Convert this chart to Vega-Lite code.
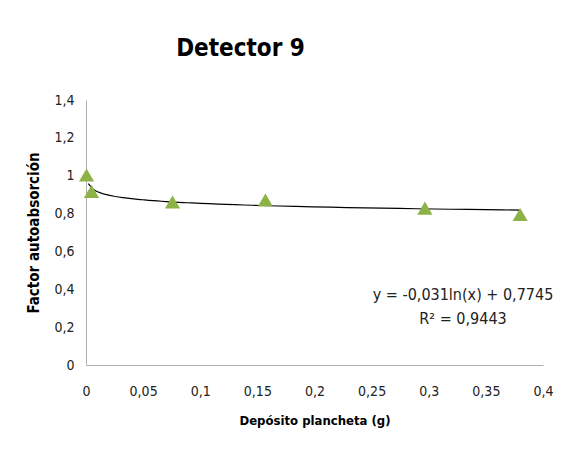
{
  "$schema": "https://vega.github.io/schema/vega-lite/v6.json",
  "width": 457,
  "height": 265,
  "autosize": {"type": "none"},
  "padding": {"left": 86, "top": 100, "right": 24, "bottom": 93},
  "background": "white",
  "config": {
    "view": {"stroke": null},
    "font": "DejaVu Sans Condensed, Open Sans, sans-serif"
  },
  "title": {
    "text": "Detector 9",
    "fontSize": 24,
    "fontWeight": "bold",
    "font": "DejaVu Sans Condensed, Open Sans, sans-serif",
    "color": "black",
    "anchor": "middle",
    "dx": -74,
    "offset": 32
  },
  "datasets": {
    "pts": [
      {"x": 0.0005, "y": 1.004},
      {"x": 0.0048, "y": 0.917},
      {"x": 0.0757, "y": 0.861},
      {"x": 0.157, "y": 0.872},
      {"x": 0.2966, "y": 0.829},
      {"x": 0.38, "y": 0.795}
    ],
    "ann": [
      {"x": 0.33, "y": 0.37, "label": ["y = -0,031ln(x) + 0,7745", "R² = 0,9443"]}
    ]
  },
  "layer": [
    {
      "data": {"name": "pts"},
      "transform": [
        {"regression": "y", "on": "x", "method": "log", "extent": [0.002, 0.38]}
      ],
      "mark": {"type": "line", "color": "black", "strokeWidth": 1.2},
      "encoding": {
        "x": {
          "field": "x", "type": "quantitative",
          "scale": {"domain": [0, 0.4], "nice": false},
          "axis": {
            "title": "Depósito plancheta (g)",
            "titleFontSize": 13, "titleFontWeight": "bold", "titleColor": "black",
            "titlePadding": 16,
            "values": [0, 0.05, 0.1, 0.15, 0.2, 0.25, 0.3, 0.35, 0.4],
            "tickCount": 20,
            "labelExpr": "replace(toString(datum.value), '.', ',')",
            "labelFontSize": 14, "labelColor": "#222",
            "labelPadding": 19, "labelOverlap": false,
            "ticks": false, "grid": false,
            "domainColor": "#b0b0b0", "labelFlush": false
          }
        },
        "y": {
          "field": "y", "type": "quantitative",
          "scale": {"domain": [0, 1.4], "nice": false},
          "axis": {
            "title": "Factor autoabsorción",
            "titleFontSize": 15, "titleFontWeight": "bold", "titleColor": "black",
            "titlePadding": 12,
            "values": [0, 0.2, 0.4, 0.6, 0.8, 1, 1.2, 1.4],
            "tickCount": 20,
            "labelExpr": "replace(toString(datum.value), '.', ',')",
            "labelFontSize": 14, "labelColor": "#222",
            "labelPadding": 12, "labelOverlap": false,
            "ticks": false, "grid": false,
            "domainColor": "#b0b0b0", "labelFlush": false
          }
        }
      }
    },
    {
      "data": {"name": "pts"},
      "mark": {"type": "point", "shape": "triangle-up", "filled": true, "color": "#8DB348", "opacity": 1, "size": 230},
      "encoding": {
        "x": {"field": "x", "type": "quantitative"},
        "y": {"field": "y", "type": "quantitative"}
      }
    },
    {
      "data": {"name": "ann"},
      "mark": {"type": "text", "fontSize": 16, "color": "#222", "align": "center", "baseline": "middle", "lineHeight": 24},
      "encoding": {
        "x": {"field": "x", "type": "quantitative"},
        "y": {"field": "y", "type": "quantitative"},
        "text": {"field": "label"}
      }
    }
  ]
}
